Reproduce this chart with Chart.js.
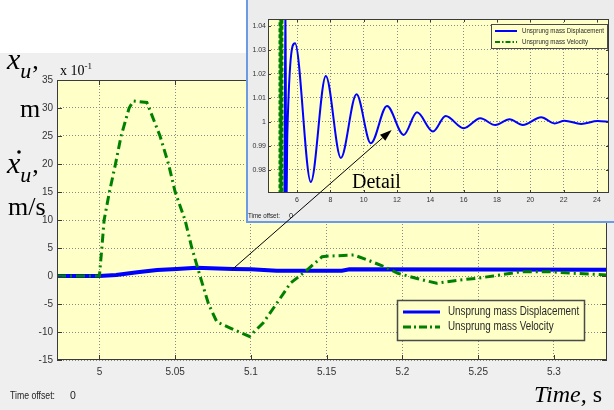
<!DOCTYPE html>
<html>
<head>
<meta charset="utf-8">
<script src="https://cdn.jsdelivr.net/npm/chart.js@4.4.0/dist/chart.umd.min.js"></script>
<style>
  html, body { margin: 0; padding: 0; background: #fff; }
  #wrap { position: relative; width: 614px; height: 410px; overflow: hidden; }
  canvas { position: absolute; }
  #main { left: 0; top: 53px; }
  #inset { left: 246px; top: 0; }
  #overlay { position: absolute; left: 0; top: 0; pointer-events: none; }
  .serif { font-family: 'Liberation Serif', 'Times New Roman', serif; fill: #000; }
  .sans { font-family: 'Liberation Sans', Arial, sans-serif; fill: #222; }
</style>
</head>
<body>
<div id="wrap">
  <canvas id="main" width="614" height="357"></canvas>
  <canvas id="inset" width="368" height="223"></canvas>
  <svg id="overlay" width="614" height="410">
    <text class="serif" x="7" y="69"><tspan font-style="italic" font-size="30">x</tspan><tspan font-style="italic" font-size="22" dy="9">u</tspan><tspan font-size="26" dy="-9" dx="1">,</tspan></text>
    <text class="serif" x="20" y="117" font-size="26">m</text>
    <circle cx="19" cy="152" r="1.8" fill="#000"></circle>
    <text class="serif" x="7" y="173"><tspan font-style="italic" font-size="30">x</tspan><tspan font-style="italic" font-size="22" dy="9">u</tspan><tspan font-size="26" dy="-9" dx="1">,</tspan></text>
    <text class="serif" x="8" y="215" font-size="26">m/s</text>
    <text class="serif" x="60" y="75" font-size="14">x 10<tspan font-size="9" dy="-6">-1</tspan></text>
    <text class="serif" x="534" y="402" font-size="24"><tspan font-style="italic">Time,</tspan> s</text>
    <text class="sans" x="10" y="399" font-size="10.5" textLength="45" lengthAdjust="spacingAndGlyphs">Time offset:</text>
    <text class="sans" x="70" y="399" font-size="10.5">0</text>
    <text class="sans" x="248" y="218" font-size="7.4" textLength="32" lengthAdjust="spacingAndGlyphs">Time offset:</text>
    <text class="sans" x="289" y="218" font-size="7.4">0</text>
    <text class="serif" x="352" y="188" font-size="20">Detail</text>
    <line id="arrowLine" stroke="#000" stroke-width="1"></line>
    <polygon id="arrowHead" fill="#000"></polygon>
  </svg>
</div>
<script>
// main plot: t in s, values in units of 10^-1
const velT = [4.972, 5.0, 5.0016, 5.0031, 5.0066, 5.0106, 5.0143, 5.0196, 5.0224, 5.0313, 5.040, 5.0456, 5.050, 5.0565, 5.061, 5.0664, 5.072, 5.0775, 5.0864, 5.099, 5.108, 5.117, 5.126, 5.137, 5.147, 5.152, 5.168, 5.177, 5.188, 5.197, 5.209, 5.2226, 5.238, 5.249, 5.26, 5.278, 5.297, 5.313, 5.335];
const velV = [0, 0, 5, 10, 15, 20, 25, 30, 31.25, 31.0, 25, 20, 15, 10, 5, 0, -5, -8.2, -9.3, -10.8, -8.4, -4.9, -1.3, 1.07, 3.45, 3.57, 3.75, 2.86, 1.66, 0.48, -0.41, -1.3, -0.71, -0.41, 0, 0.77, 0.77, 0.48, 0.18];
const dispT = [4.972, 5.0, 5.011, 5.025, 5.038, 5.051, 5.064, 5.088, 5.1, 5.117, 5.16, 5.165, 5.335];
const dispV = [0, 0, 0.18, 0.66, 1.07, 1.25, 1.48, 1.25, 1.2, 0.95, 0.95, 1.2, 1.1];
const mainXTicks = [5, 5.05, 5.1, 5.15, 5.2, 5.25, 5.3];
const mainYTicks = [-15, -10, -5, 0, 5, 10, 15, 20, 25, 30, 35];

// detail plot
const insDispT = [4.26, 5.0, 5.3, 5.36, 5.42, 5.88, 6.83, 7.73, 8.63, 9.57, 10.43, 11.4, 12.4, 13.2, 14.16, 14.92, 16.0, 17.0, 17.9, 18.75, 19.55, 20.65, 21.45, 22.05, 23.05, 24.04, 24.74];
const insDispV = [0, 0, 1.06, 0.96, 0.9953, 1.0328, 0.975, 1.0192, 0.985, 1.0115, 0.9911, 1.0067, 0.9946, 1.004, 0.996, 1.0025, 0.9974, 1.0015, 0.9987, 1.0011, 0.9987, 1.002, 0.9994, 1.0005, 0.9992, 1.0004, 1.0];
const insVelT = [4.26, 5.0, 5.03, 5.1, 5.16, 5.22, 5.3, 24.74];
const insVelV = [0, 0, 3.1, -1.1, 0.37, -0.12, 0.07, 0];
const insXTicks = [6, 8, 10, 12, 14, 16, 18, 20, 22, 24];
const insYTicks = [0.98, 0.99, 1, 1.01, 1.02, 1.03, 1.04];

const arrowFrom = [5.088, 1.25];
const arrowTo = [11.68, 0.9967];

const FIG_BG = '#efefef';
const AX_BG = '#ffffc8';
const BLUE = '#0000ff';
const GREEN = '#008000';
const SANS = "'Liberation Sans', Arial, sans-serif";

const pts = (xs, ys) => xs.map((x, i) => ({ x, y: ys[i] }));
const fmt = v => String(+v.toFixed(3));

function frame(cfg) {
  return {
    id: 'frame',
    beforeDraw(chart) {
      const { ctx, chartArea: a, width, height } = chart;
      ctx.save();
      ctx.fillStyle = cfg.bg;
      ctx.fillRect(0, 0, width, height);
      ctx.fillStyle = AX_BG;
      ctx.fillRect(a.left, a.top, a.right - a.left, a.bottom - a.top);
      ctx.restore();
    },
    afterDraw(chart) {
      const { ctx, chartArea: a, scales } = chart;
      ctx.save();
      ctx.strokeStyle = '#3a3a3a';
      ctx.lineWidth = 1;
      ctx.beginPath();
      scales.x.ticks.forEach(t => {
        const px = Math.round(scales.x.getPixelForValue(t.value)) + 0.5;
        ctx.moveTo(px, a.bottom); ctx.lineTo(px, a.bottom - cfg.tick);
        ctx.moveTo(px, a.top); ctx.lineTo(px, a.top + cfg.tick);
      });
      scales.y.ticks.forEach(t => {
        const py = Math.round(scales.y.getPixelForValue(t.value)) + 0.5;
        ctx.moveTo(a.left, py); ctx.lineTo(a.left + cfg.tick, py);
        ctx.moveTo(a.right, py); ctx.lineTo(a.right - cfg.tick, py);
      });
      ctx.stroke();
      ctx.strokeRect(Math.round(a.left) + 0.5, Math.round(a.top) + 0.5,
        Math.round(a.right - a.left) - 1, Math.round(a.bottom - a.top) - 1);

      // legend box inside the axes
      const lg = cfg.legend;
      ctx.fillStyle = AX_BG;
      ctx.fillRect(lg.x, lg.y, lg.w, lg.h);
      ctx.strokeStyle = '#4a4a4a';
      ctx.lineWidth = lg.edge;
      ctx.strokeRect(lg.x + 0.5, lg.y + 0.5, lg.w, lg.h);
      ctx.font = lg.font;
      ctx.textBaseline = 'middle';
      chart.data.datasets.forEach((ds, i) => {
        const y = lg.y + lg.rows[i];
        ctx.strokeStyle = ds.borderColor;
        ctx.lineWidth = lg.lw[i];
        ctx.setLineDash(lg.dash[i]);
        ctx.beginPath();
        ctx.moveTo(lg.x + lg.l0, y);
        ctx.lineTo(lg.x + lg.l1, y);
        ctx.stroke();
        ctx.setLineDash([]);
        ctx.fillStyle = '#2a2a2a';
        ctx.save();
        ctx.translate(lg.x + lg.tx, y);
        ctx.scale(0.82, 1);
        ctx.fillText(ds.label, 0, 0);
        ctx.restore();
      });

      if (cfg.border) {
        ctx.fillStyle = cfg.border;
        ctx.fillRect(0, 0, 2, chart.height);
        ctx.fillRect(0, chart.height - 2, chart.width, 2);
      }
      ctx.restore();
    }
  };
}

function axis(min, max, ticks, size, fit, pad, fontSize) {
  return {
    type: 'linear',
    min, max,
    afterBuildTicks: s => { s.ticks = ticks.map(v => ({ value: v })); },
    afterFit: s => { s[size] = fit; },
    grid: { color: '#8a8a8a', lineWidth: 1, drawTicks: false },
    border: { display: false, dash: [1, 2] },
    ticks: {
      autoSkip: false, maxRotation: 0, padding: pad, color: '#333',
      font: { family: SANS, size: fontSize },
      callback: v => fmt(v)
    }
  };
}

const mainChart = new Chart(document.getElementById('main'), {
  type: 'line',
  data: {
    datasets: [
      { label: 'Unsprung mass Displacement', data: pts(dispT, dispV), borderColor: BLUE,
        borderWidth: 4, pointRadius: 0, tension: 0, order: 1 },
      { label: 'Unsprung mass Velocity', data: pts(velT, velV), borderColor: GREEN,
        borderWidth: 3, borderDash: [9, 4, 2, 4], pointRadius: 0, tension: 0, order: 0 }
    ]
  },
  options: {
    responsive: false, animation: false, events: [],
    layout: { padding: { top: 27, right: 7, left: 0, bottom: 0 } },
    plugins: { legend: { display: false }, tooltip: { enabled: false } },
    scales: {
      x: axis(4.972, 5.335, mainXTicks, 'height', 50, 6, 10),
      y: axis(-15, 35, mainYTicks, 'width', 57, 4, 10)
    }
  },
  plugins: [frame({
    bg: FIG_BG, tick: 5,
    legend: { x: 397, y: 247, w: 187, h: 40, edge: 1.5, rows: [12, 27], l0: 6, l1: 43, tx: 51,
      lw: [3, 3], dash: [[], [8, 3, 2, 3]], font: `12px ${SANS}` }
  })]
});

const insetChart = new Chart(document.getElementById('inset'), {
  type: 'line',
  data: {
    datasets: [
      { label: 'Unsprung mass Displacement', data: pts(insDispT, insDispV), borderColor: BLUE,
        borderWidth: 2, pointRadius: 0, cubicInterpolationMode: 'monotone', order: 1 },
      { label: 'Unsprung mass Velocity', data: pts(insVelT, insVelV), borderColor: GREEN,
        borderWidth: 4, borderDash: [4, 2], pointRadius: 0, tension: 0, order: 0 }
    ]
  },
  options: {
    responsive: false, animation: false, events: [],
    layout: { padding: { top: 19, right: 5, left: 0, bottom: 0 } },
    plugins: { legend: { display: false }, tooltip: { enabled: false } },
    scales: {
      x: axis(4.26, 24.72, insXTicks, 'height', 30, 3, 7),
      y: axis(0.9704, 1.0429, insYTicks, 'width', 22, 2, 7)
    }
  },
  plugins: [frame({
    bg: '#ececec', tick: 3, border: '#6c9be4',
    legend: { x: 245, y: 24, w: 116, h: 24, edge: 1, rows: [7, 18], l0: 4, l1: 26, tx: 31,
      lw: [2, 2], dash: [[], [5, 2, 1.5, 2]], font: `7.5px ${SANS}` }
  })]
});

// arrow from the main curve up into the detail plot
const mainBox = { left: 0, top: 53 };
const insBox = { left: 246, top: 0 };
const x1 = mainChart.scales.x.getPixelForValue(arrowFrom[0]) + mainBox.left;
const y1 = mainChart.scales.y.getPixelForValue(arrowFrom[1]) + mainBox.top;
const x2 = insetChart.scales.x.getPixelForValue(arrowTo[0]) + insBox.left;
const y2 = insetChart.scales.y.getPixelForValue(arrowTo[1]) + insBox.top;
const ang = Math.atan2(y2 - y1, x2 - x1);
const hl = 12, hw = 4;
const bx = x2 - hl * Math.cos(ang), by = y2 - hl * Math.sin(ang);
const line = document.getElementById('arrowLine');
line.setAttribute('x1', x1); line.setAttribute('y1', y1);
line.setAttribute('x2', bx); line.setAttribute('y2', by);
document.getElementById('arrowHead').setAttribute('points', [
  [x2, y2],
  [bx - hw * Math.sin(ang), by + hw * Math.cos(ang)],
  [bx + hw * Math.sin(ang), by - hw * Math.cos(ang)]
].map(p => p.join(',')).join(' '));
</script>
</body>
</html>
